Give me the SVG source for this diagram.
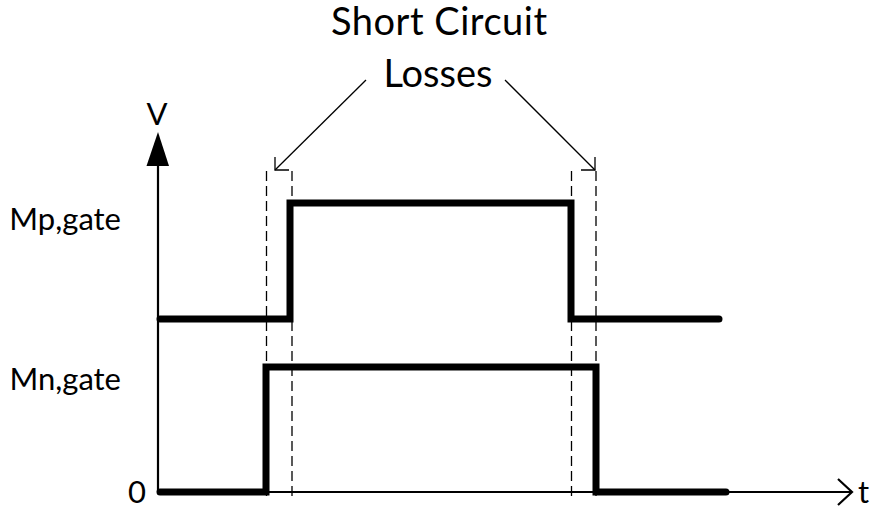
<svg xmlns="http://www.w3.org/2000/svg" width="876" height="510" viewBox="0 0 876 510">
<style>
text{font-family:Lato,"Open Sans","Liberation Sans",sans-serif;fill:#000}
.big{font-size:38px}
.lbl{font-size:31px}
.axis{stroke:#000;stroke-width:2.2;fill:none}
.sig{stroke:#000;stroke-width:7;fill:none;stroke-linejoin:miter;stroke-linecap:round}
.dash{stroke:#000;stroke-width:1.3;stroke-dasharray:10 5;fill:none}
.ptr{stroke:#000;stroke-width:1.3;fill:none}
</style>
<rect width="876" height="510" fill="#fff"/>
<g id="title">
<text class="big" x="439" y="35" text-anchor="middle" textLength="216" lengthAdjust="spacing">Short Circuit</text>
<text class="big" x="438" y="87" text-anchor="middle">Losses</text>
</g>
<g id="axes">
<line class="axis" x1="158" y1="492" x2="158" y2="164"/>
<polygon points="158,132 146.5,166 169,166" fill="#000"/>
<line class="axis" x1="158" y1="492" x2="851" y2="492"/>
<polyline class="axis" points="838,479 852,492 838,505"/>
<text class="lbl" x="157" y="125" text-anchor="middle">V</text>
<text class="lbl" x="858" y="503">t</text>
<text class="lbl" x="146" y="503" text-anchor="end">0</text>
</g>
<g id="mp-gate">
<text class="lbl" x="121" y="230" text-anchor="end">Mp,gate</text>
<polyline class="sig" points="160,319 290,319 290,203 571,203 571,319 719,319"/>
</g>
<g id="mn-gate">
<text class="lbl" x="121" y="390" text-anchor="end">Mn,gate</text>
<polyline class="sig" points="160,492 266,492 266,367 596,367 596,492 726,492"/>
</g>
<g id="connectors">
<line class="dash" x1="266.5" y1="171" x2="266.5" y2="496"/>
<line class="dash" x1="292" y1="171" x2="292" y2="496"/>
<line class="dash" x1="571.5" y1="171" x2="571.5" y2="496"/>
<line class="dash" x1="596" y1="171" x2="596" y2="496"/>
<line class="ptr" x1="366" y1="80" x2="275" y2="170"/>
<polyline class="ptr" points="275,157 275,170 289,170"/>
<line class="ptr" x1="505" y1="80" x2="595" y2="170"/>
<polyline class="ptr" points="595,157 595,170 581,170"/>
</g>
</svg>
